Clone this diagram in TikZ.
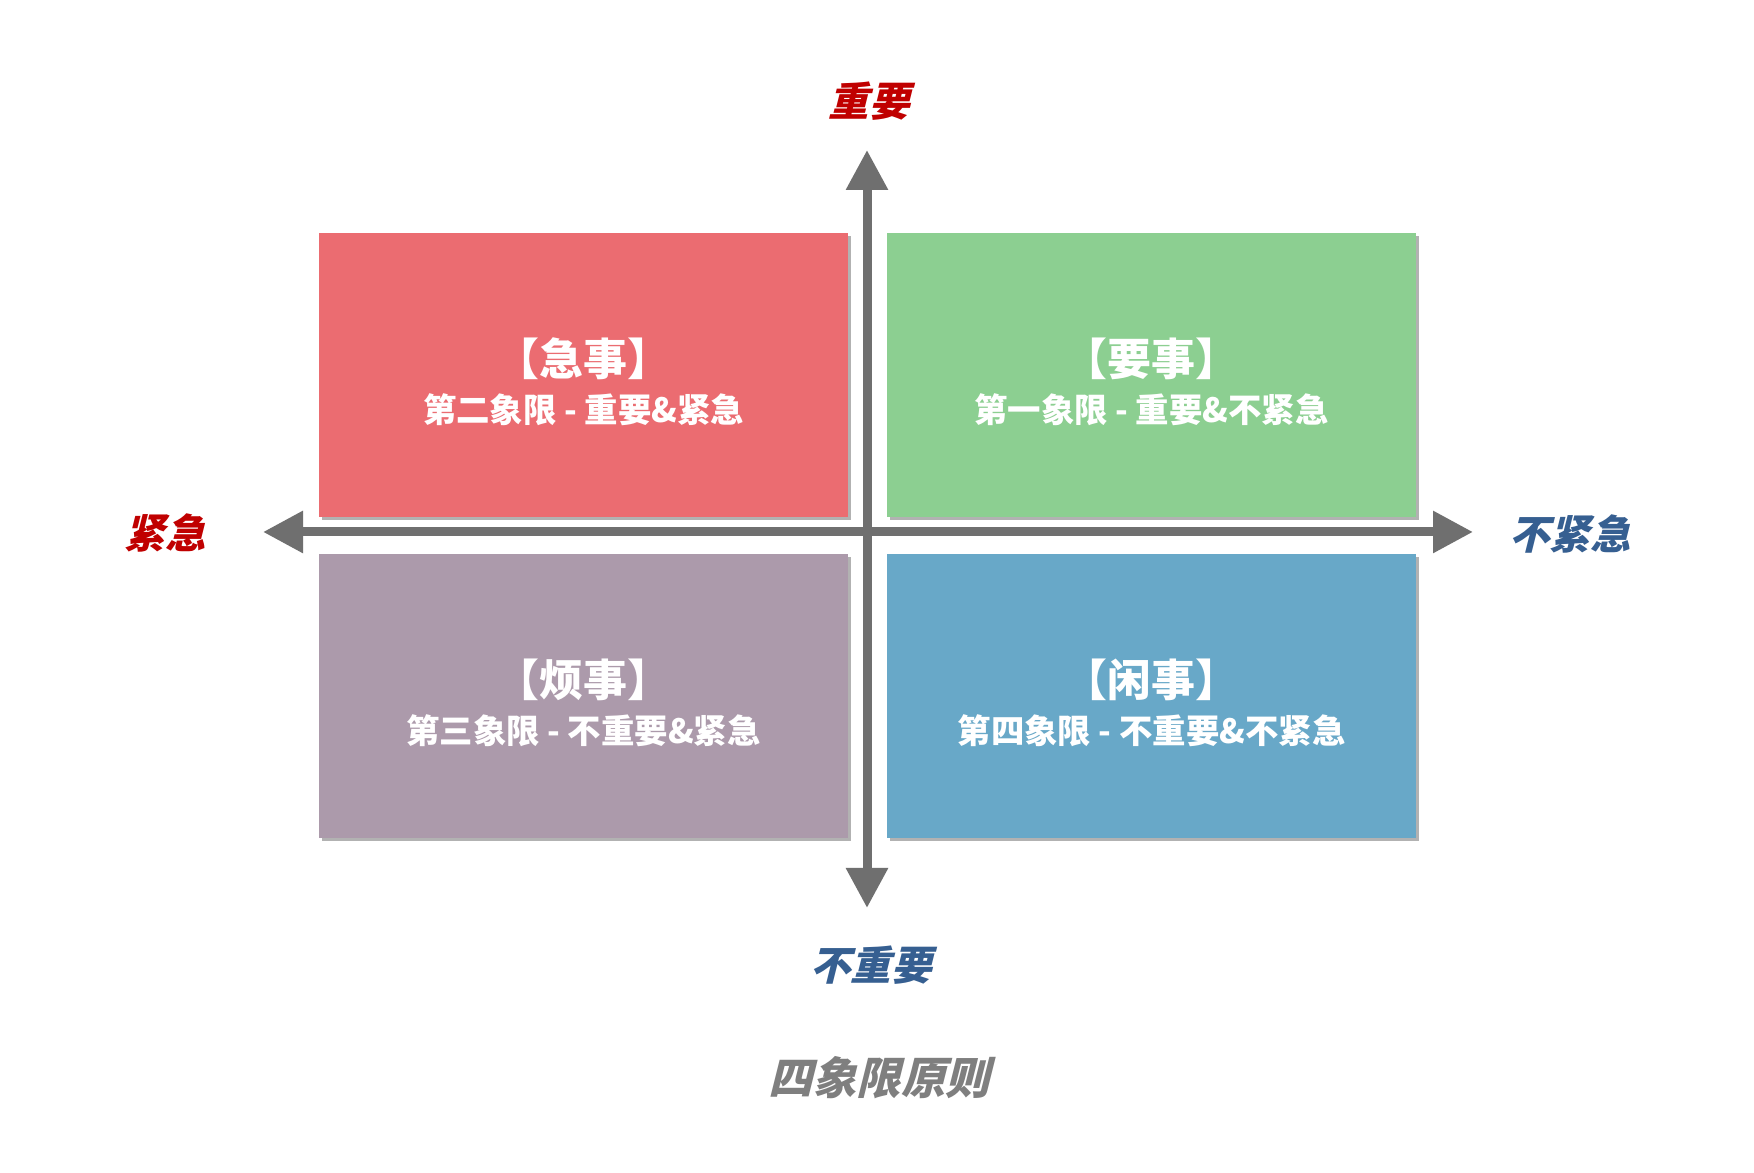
\documentclass[tikz,border=0pt]{standalone}
\usepackage{fontspec}
\newfontfamily\cjk{Noto Sans CJK SC}
\newfontfamily\cjkslant{Noto Sans CJK SC}[FakeSlant=0.25]
\usetikzlibrary{arrows.meta,shadows}
\definecolor{boxred}{RGB}{235,108,113}
\definecolor{boxgreen}{RGB}{140,207,145}
\definecolor{boxpurple}{RGB}{172,154,171}
\definecolor{boxblue}{RGB}{104,168,200}
\definecolor{axisgray}{RGB}{111,111,111}
\definecolor{labelred}{RGB}{192,0,0}
\definecolor{labelblue}{RGB}{54,95,145}
\definecolor{titlegray}{RGB}{127,127,127}
\begin{document}
\begin{tikzpicture}[
        quadrant/.style={rectangle, inner sep=0pt, minimum width=5.29cm, minimum height=2.84cm,
            drop shadow={shadow xshift=0.03cm, shadow yshift=-0.03cm, fill=gray, opacity=0.6}},
        qtitle/.style={text=white, font=\cjk\bfseries\fontsize{12.5}{14}\selectfont, inner sep=0pt},
        qsub/.style={text=white, font=\cjk\bfseries\fontsize{9.5}{11}\selectfont, inner sep=0pt},
        axislabel/.style={font=\cjkslant\bfseries\fontsize{11.5}{13}\selectfont, inner sep=0pt},
        axis/.style={axisgray, line width=0.09cm, {Triangle[length=0.4cm, width=0.4cm]}-{Triangle[length=0.4cm, width=0.4cm]}}
    ]
        \useasboundingbox[fill=white] (0,0) rectangle (17.54,11.73);

        % the four quadrants
        \node[quadrant, fill=boxred] (q2) at (5.835, 7.975) {};
        \node[quadrant, fill=boxgreen] (q1) at (11.515, 7.975) {};
        \node[quadrant, fill=boxpurple] (q3) at (5.835, 4.765) {};
        \node[quadrant, fill=boxblue] (q4) at (11.515, 4.765) {};

        \node[qtitle] (q2title) at ([yshift=0.17cm]q2.center) {【急事】};
        \node[qsub] (q2sub) at ([yshift=-0.34cm]q2.center) {第二象限 - 重要\&紧急};
        \node[qtitle] (q1title) at ([yshift=0.17cm]q1.center) {【要事】};
        \node[qsub] (q1sub) at ([yshift=-0.34cm]q1.center) {第一象限 - 重要\&不紧急};
        \node[qtitle] (q3title) at ([yshift=0.17cm]q3.center) {【烦事】};
        \node[qsub] (q3sub) at ([yshift=-0.34cm]q3.center) {第三象限 - 不重要\&紧急};
        \node[qtitle] (q4title) at ([yshift=0.17cm]q4.center) {【闲事】};
        \node[qsub] (q4sub) at ([yshift=-0.34cm]q4.center) {第四象限 - 不重要\&不紧急};

        % axes
        \coordinate (west) at (2.63, 6.41);
        \coordinate (east) at (14.73, 6.41);
        \coordinate (north) at (8.67, 10.23);
        \coordinate (south) at (8.67, 2.65);
        \draw[axis] (west) -- (east);
        \draw[axis] (south) -- (north);

        \node[axislabel, text=labelred] (important) at (8.69, 10.72) {重要};
        \node[axislabel, text=labelblue] (notimportant) at (8.71, 2.08) {不重要};
        \node[axislabel, text=labelred] (urgent) at (1.65, 6.40) {紧急};
        \node[axislabel, text=labelblue] (noturgent) at (15.70, 6.39) {不紧急};

        \node[font=\cjkslant\bfseries\fontsize{12.6}{15}\selectfont, text=titlegray, inner sep=0pt] (caption) at (8.79, 0.95) {四象限原则};
    \end{tikzpicture}
\end{document}
